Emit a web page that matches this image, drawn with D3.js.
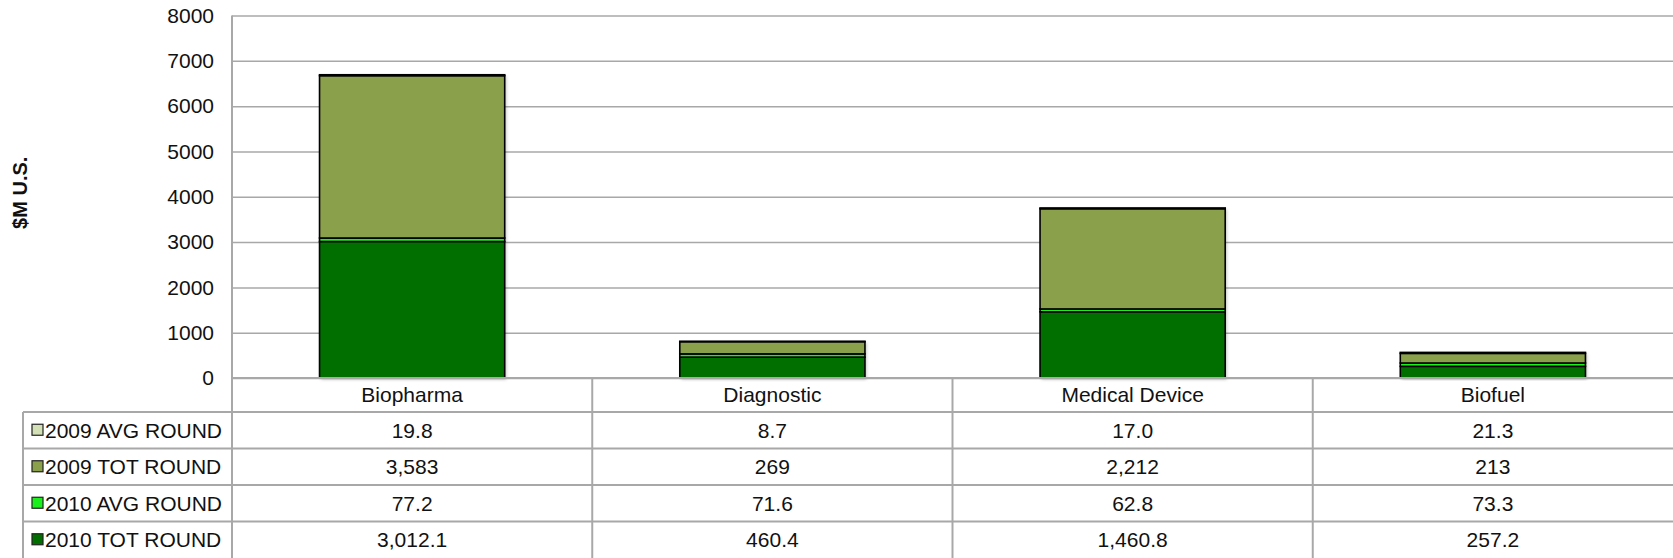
<!DOCTYPE html>
<html>
<head>
<meta charset="utf-8">
<script src="https://cdn.jsdelivr.net/npm/d3@7"></script>
<style>
  body { margin: 0; background: #fff; }
  text { font-family: "Liberation Sans", Arial, sans-serif; fill: #111; }
</style>
</head>
<body>
<div id="chart"></div>
<script>
(function() {
  "use strict";

  // données
  var categories = ["Biopharma", "Diagnostic", "Medical Device", "Biofuel"];
  var series = ["2009 AVG ROUND", "2009 TOT ROUND", "2010 AVG ROUND", "2010 TOT ROUND"];
  var avg2009 = [19.8, 8.7, 17.0, 21.3];
  var tot2009 = [3583, 269, 2212, 213];
  var avg2010 = [77.2, 71.6, 62.8, 73.3];
  var tot2010 = [3012.1, 460.4, 1460.8, 257.2];
  var yTicks = [0, 1000, 2000, 3000, 4000, 5000, 6000, 7000, 8000];

  var values = {
    "2009 AVG ROUND": avg2009,
    "2009 TOT ROUND": tot2009,
    "2010 AVG ROUND": avg2010,
    "2010 TOT ROUND": tot2010
  };
  var colors = {
    "2009 AVG ROUND": "#d3e0b5",
    "2009 TOT ROUND": "#8aa04b",
    "2010 AVG ROUND": "#1cf01c",
    "2010 TOT ROUND": "#006f00"
  };
  var formats = {
    "2009 AVG ROUND": d3.format(".1f"),
    "2009 TOT ROUND": d3.format(","),
    "2010 AVG ROUND": d3.format(".1f"),
    "2010 TOT ROUND": d3.format(",.1f")
  };

  var W = 1673, H = 558;
  var plot = {left: 232, right: 1673, top: 15.5, bottom: 378};
  var table = {left: 23, headerBottom: 412, bottom: 558};
  var gridColor = "#a8a8a8";
  var fontSize = "21px";

  var svg = d3.select("#chart").append("svg")
    .attr("width", W)
    .attr("height", H);

  var defs = svg.append("defs");
  defs.append("filter")
    .attr("id", "shadow")
    .attr("x", "-10%").attr("y", "-10%")
    .attr("width", "120%").attr("height", "120%")
    .append("feDropShadow")
    .attr("dx", 1.5).attr("dy", 1.5)
    .attr("stdDeviation", 1.5)
    .attr("flood-color", "#000")
    .attr("flood-opacity", 0.25);

  var x = d3.scaleBand()
    .domain(categories)
    .range([plot.left, plot.right])
    .paddingInner(0.486)
    .paddingOuter(0.243);

  var col = d3.scaleBand()
    .domain(categories)
    .range([plot.left, plot.right]);

  var y = d3.scaleLinear()
    .domain([0, 8000])
    .range([plot.bottom, plot.top]);

  var row = d3.scaleBand()
    .domain(series)
    .range([table.headerBottom, table.bottom]);

  // grille + axe y
  var yAxis = d3.axisLeft(y)
    .tickValues(yTicks)
    .tickFormat(d3.format("d"))
    .tickSize(-(plot.right - plot.left))
    .tickPadding(18);
  var gy = svg.append("g")
    .attr("transform", `translate(${plot.left},0)`)
    .call(yAxis);
  gy.select(".domain").remove();
  gy.selectAll(".tick line")
    .attr("stroke", gridColor)
    .attr("stroke-width", 1.5);
  gy.selectAll(".tick text")
    .style("font-size", fontSize)
    .attr("fill", "#111");

  // titre de l'axe y
  svg.append("text")
    .attr("transform", `translate(27, ${(plot.top + plot.bottom) / 2 - 4}) rotate(-90)`)
    .attr("text-anchor", "middle")
    .style("font-size", "20px")
    .style("font-weight", "bold")
    .text("$M U.S.");

  // barres empilées (du bas vers le haut)
  var stackOrder = ["2010 TOT ROUND", "2010 AVG ROUND", "2009 TOT ROUND", "2009 AVG ROUND"];
  var rows = categories.map(function(c, i) {
    var o = {cat: c};
    series.forEach(function(s) { o[s] = values[s][i]; });
    return o;
  });
  var stacked = d3.stack().keys(stackOrder)(rows);

  var bars = svg.append("g");
  bars.selectAll("rect.shadow")
    .data(rows)
    .enter().append("rect")
    .attr("class", "shadow")
    .attr("x", d => x(d.cat))
    .attr("y", d => y(d3.sum(stackOrder, k => d[k])))
    .attr("width", x.bandwidth())
    .attr("height", d => y(0) - y(d3.sum(stackOrder, k => d[k])))
    .attr("fill", "#fff")
    .attr("filter", "url(#shadow)");

  bars.selectAll("g.layer")
    .data(stacked)
    .enter().append("g")
    .attr("class", "layer")
    .attr("fill", d => colors[d.key])
    .selectAll("rect")
    .data(d => d)
    .enter().append("rect")
    .attr("x", d => x(d.data.cat))
    .attr("y", d => y(d[1]))
    .attr("width", x.bandwidth())
    .attr("height", d => y(d[0]) - y(d[1]))
    .attr("stroke", "#000")
    .attr("stroke-width", 1.6);

  // tableau de données
  var tbl = svg.append("g");

  // lignes horizontales
  tbl.append("line")
    .attr("x1", plot.left).attr("x2", W)
    .attr("y1", plot.bottom).attr("y2", plot.bottom)
    .attr("stroke", gridColor).attr("stroke-width", 2);
  tbl.selectAll("line.hrow")
    .data(series)
    .enter().append("line")
    .attr("class", "hrow")
    .attr("x1", table.left).attr("x2", W)
    .attr("y1", d => row(d)).attr("y2", d => row(d))
    .attr("stroke", gridColor).attr("stroke-width", 2);

  // lignes verticales
  tbl.append("line")
    .attr("x1", table.left).attr("x2", table.left)
    .attr("y1", table.headerBottom).attr("y2", table.bottom)
    .attr("stroke", gridColor).attr("stroke-width", 2);
  tbl.append("line")
    .attr("x1", plot.left).attr("x2", plot.left)
    .attr("y1", plot.top).attr("y2", table.bottom)
    .attr("stroke", gridColor).attr("stroke-width", 2);
  tbl.selectAll("line.vcol")
    .data(categories.slice(1))
    .enter().append("line")
    .attr("class", "vcol")
    .attr("x1", d => col(d)).attr("x2", d => col(d))
    .attr("y1", plot.bottom).attr("y2", table.bottom)
    .attr("stroke", gridColor).attr("stroke-width", 2);

  // en-têtes des catégories
  tbl.selectAll("text.cat")
    .data(categories)
    .enter().append("text")
    .attr("class", "cat")
    .attr("x", d => col(d) + col.bandwidth() / 2)
    .attr("y", (plot.bottom + table.headerBottom) / 2)
    .attr("dy", "0.35em")
    .attr("text-anchor", "middle")
    .style("font-size", fontSize)
    .text(d => d);

  // légende
  var leg = tbl.selectAll("g.leg")
    .data(series)
    .enter().append("g")
    .attr("class", "leg")
    .attr("transform", d => `translate(${table.left}, ${row(d) + row.bandwidth() / 2})`);
  leg.append("rect")
    .attr("x", 9).attr("y", -6)
    .attr("width", 11).attr("height", 11)
    .attr("fill", d => colors[d])
    .attr("stroke", "#222")
    .attr("stroke-width", 1.2);
  leg.append("text")
    .attr("x", 22)
    .attr("dy", "0.35em")
    .style("font-size", fontSize)
    .text(d => d);

  // valeurs
  series.forEach(function(s) {
    tbl.selectAll(null)
      .data(categories)
      .enter().append("text")
      .attr("x", d => col(d) + col.bandwidth() / 2)
      .attr("y", row(s) + row.bandwidth() / 2)
      .attr("dy", "0.35em")
      .attr("text-anchor", "middle")
      .style("font-size", fontSize)
      .text((d, i) => formats[s](values[s][i]));
  });
})();
</script>
</body>
</html>
